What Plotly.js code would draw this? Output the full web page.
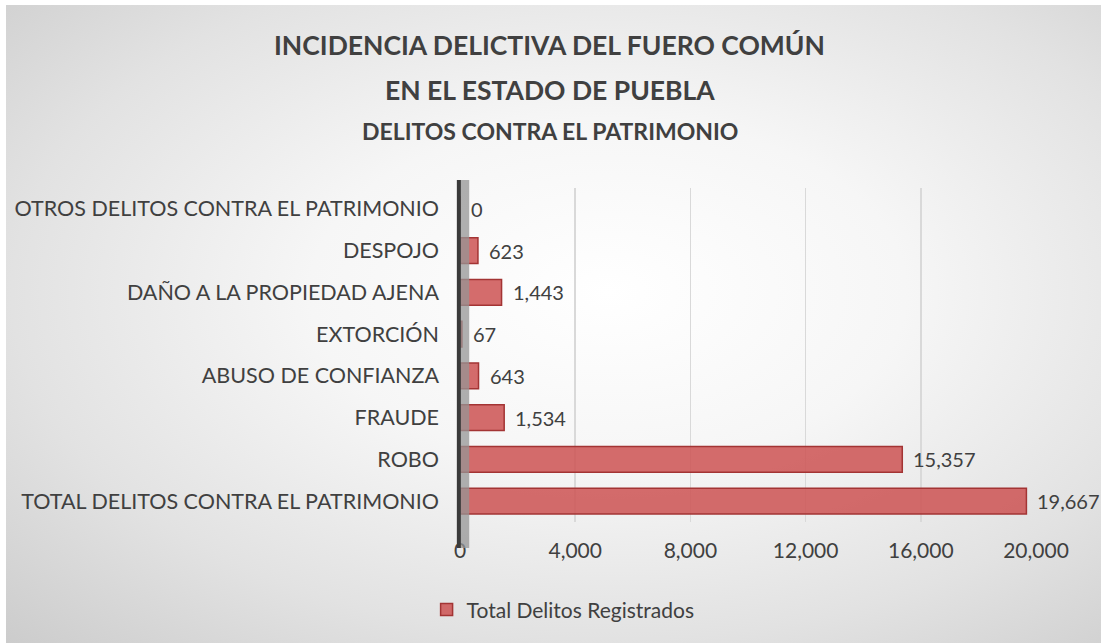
<!DOCTYPE html>
<html>
<head>
<meta charset="utf-8">
<script src="https://cdn.plot.ly/plotly-3.0.1.min.js"></script>
<style>
  html, body { margin: 0; padding: 0; }
  body {
    width: 1101px; height: 643px; overflow: hidden;
    background: #fff;
  }
  #frame {
    position: absolute; left: 6px; top: 5px; width: 1095px; height: 638px;
    background: radial-gradient(ellipse at 55% 45%, #ffffff 0%, #f6f6f6 35%, #e2e2e2 70%, #cccccc 100%);
  }
  #chart { position: absolute; left: 0; top: 0; width: 1101px; height: 643px; }
</style>
</head>
<body>
<div id="frame"></div>
<div id="chart"></div>
<script>
// categories, top to bottom as in the chart
const categories = [
  'OTROS DELITOS CONTRA EL PATRIMONIO',
  'DESPOJO',
  'DAÑO A LA PROPIEDAD AJENA',
  'EXTORCIÓN',
  'ABUSO DE CONFIANZA',
  'FRAUDE',
  'ROBO',
  'TOTAL DELITOS CONTRA EL PATRIMONIO'
]
const totals = [0, 623, 1443, 67, 643, 1534, 15357, 19667]
const xTicks = [0, 4000, 8000, 12000, 16000, 20000]

const font = 'Lato, "Open Sans", sans-serif'
const textColor = '#404040'

const data = [{
  type: 'bar',
  orientation: 'h',
  y: categories,
  x: totals,
  name: 'Total Delitos Registrados',
  marker: {
    color: 'rgba(204,82,82,0.85)',
    line: { color: '#a33434', width: 1.5 }
  }
}]

// value labels sit past the bar end (3D depth pushes them a bit right)
const valueLabels = totals.map((v, i) => ({
  x: v, y: categories[i], xref: 'x', yref: 'y',
  text: v.toLocaleString('en-US'),
  xanchor: 'left', yanchor: 'middle', xshift: 9, showarrow: false,
  font: { family: font, size: 20, color: textColor }
}))

const layout = {
  width: 1101,
  height: 643,
  paper_bgcolor: 'rgba(0,0,0,0)',
  plot_bgcolor: 'rgba(0,0,0,0)',
  margin: { l: 460, r: 65, t: 188, b: 121 },
  font: { family: font, color: textColor },
  bargap: 0.38,
  showlegend: true,
  legend: {
    orientation: 'h',
    x: 0.179, xanchor: 'center',
    y: -0.263, yanchor: 'middle',
    font: { family: font, size: 21, color: textColor },
    bgcolor: 'rgba(0,0,0,0)'
  },
  xaxis: {
    range: [0, 20000],
    tickvals: xTicks,
    tickformat: ',d',
    showgrid: true,
    gridcolor: '#d9d9d9',
    gridwidth: 1.5,
    zeroline: false,
    showline: false,
    ticks: '',
    ticklabelstandoff: 14,
    tickfont: { family: font, size: 21, color: textColor }
  },
  yaxis: {
    autorange: 'reversed',
    showgrid: false,
    zeroline: false,
    showline: false,
    ticks: '',
    ticklabelstandoff: 20,
    tickfont: { family: font, size: 21.5, color: textColor }
  },
  shapes: [
    // side wall of the 3D chart
    { type: 'rect', xref: 'paper', yref: 'paper', x0: 0, x1: 0.016, y0: -0.078, y1: 1.024,
      fillcolor: 'rgba(150,150,150,0.75)', line: { width: 0 }, layer: 'above' },
    { type: 'line', xref: 'paper', yref: 'paper', x0: -0.002, x1: -0.002, y0: -0.078, y1: 1.024,
      line: { color: '#3a3a3a', width: 4 }, layer: 'above' }
  ],
  annotations: [
    { text: '<b>INCIDENCIA DELICTIVA DEL FUERO COMÚN</b>', xref: 'paper', yref: 'paper',
      x: 0.156, y: 1.428, xanchor: 'center', yanchor: 'middle', showarrow: false,
      font: { family: font, size: 26.5, color: textColor } },
    { text: '<b>EN EL ESTADO DE PUEBLA</b>', xref: 'paper', yref: 'paper',
      x: 0.156, y: 1.293, xanchor: 'center', yanchor: 'middle', showarrow: false,
      font: { family: font, size: 26.5, color: textColor } },
    { text: '<b>DELITOS CONTRA EL PATRIMONIO</b>', xref: 'paper', yref: 'paper',
      x: 0.156, y: 1.17, xanchor: 'center', yanchor: 'middle', showarrow: false,
      font: { family: font, size: 23, color: textColor } }
  ].concat(valueLabels)
}

Plotly.newPlot('chart', data, layout, { displayModeBar: false, staticPlot: true })
</script>
</body>
</html>
